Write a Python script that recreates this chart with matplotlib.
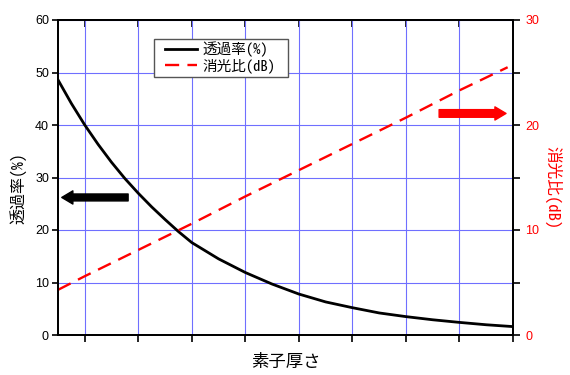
import matplotlib
matplotlib.use('Agg')
from matplotlib import pyplot as plt
from matplotlib.ticker import MultipleLocator
from matplotlib.patches import Rectangle

# font setup: latin digits in Liberation Sans, japanese in Noto CJK
plt.rcParams['font.family'] = ['Liberation Sans', 'Noto Sans CJK JP', 'DejaVu Sans']
jp = ['Noto Sans CJK JP', 'DejaVu Sans']
jp_mono = ['Noto Sans Mono CJK JP', 'Noto Sans CJK JP', 'DejaVu Sans']

# transmittance curve (left axis, %)
thickness = [-0.5, -0.25, 0, 0.25, 0.5, 0.75, 1, 1.25, 1.5, 1.75, 2, 2.5, 3, 3.5, 4,
             4.5, 5, 5.5, 6, 6.5, 7, 7.5, 8]
transmit = [48.6, 44.1, 40.0, 36.3, 32.9, 29.8, 27.0, 24.4, 22.0, 19.7, 17.6, 14.5, 11.9,
            9.7, 7.8, 6.3, 5.2, 4.2, 3.5, 2.9, 2.4, 1.95, 1.6]

# extinction ratio (right axis, dB)
thick_er = [-0.5, 0, 1, 2, 3, 4, 5, 6, 7, 7.9]
ext_ratio = [4.3, 5.6, 8.1, 10.6, 13.2, 15.7, 18.2, 20.7, 23.3, 25.5]

label_t = '透過率(%)'
label_er = '消光比(dB)'
label_x = '素子厚さ'

fig = plt.figure(figsize=(5.7, 3.75), dpi=100)
ax = fig.add_axes([58/570, 1-335/375, 455/570, 315/375])
ax2 = ax.twinx()

ax.set_xlim(-0.5, 8)
ax.set_ylim(0, 60)
ax2.set_ylim(0, 30)

ax.set_xticks(range(0, 9))
ax.set_xticklabels([])
ax.yaxis.set_major_locator(MultipleLocator(10))
ax2.yaxis.set_major_locator(MultipleLocator(10))
ax2.yaxis.set_minor_locator(MultipleLocator(5))

ax.grid(True, color='#6f6fff', lw=0.8)
ax.set_axisbelow(True)

l1, = ax.plot(thickness, transmit, color='black', lw=2.0, label=label_t)
l2, = ax2.plot(thick_er, ext_ratio, color='red', lw=1.7, dashes=(6, 3.5), label=label_er)

for a in (ax, ax2):
    for s in a.spines.values():
        s.set_linewidth(1.3)

ax.tick_params(axis='y', direction='out', length=4.5, width=1.2, labelsize=9, pad=2)
ax.tick_params(axis='x', direction='out', length=5, width=1.2)
ax2.tick_params(axis='y', which='both', direction='out', length=5, width=1.2,
                labelsize=9, labelcolor='red', pad=4)

top = ax.secondary_xaxis('top')
top.set_xticks(range(0, 9))
top.set_xticklabels([])
top.tick_params(direction='in', length=5, width=1.2)
top.spines['top'].set_linewidth(1.3)

# axis titles placed by pixel position
fig.text(18/570, 1-188/375, label_t, fontsize=11.5, family=jp_mono, rotation=90,
         ha='center', va='center')
fig.text(553/570, 1-188/375, label_er, fontsize=12, family=jp_mono, rotation=270,
         ha='center', va='center', color='red')
fig.text(286/570, 1-362/375, label_x, fontsize=12.5, family=jp, ha='center', va='center')

# arrows marking which axis each curve belongs to
ax.annotate('', xy=(-0.43, 26.2), xytext=(0.81, 26.2),
            arrowprops=dict(arrowstyle='simple,head_length=0.8,head_width=0.95,tail_width=0.5',
                            mutation_scale=10, color='black', shrinkA=0, shrinkB=0))
ax2.annotate('', xy=(7.87, 21.1), xytext=(6.62, 21.1),
             arrowprops=dict(arrowstyle='simple,head_length=0.8,head_width=0.95,tail_width=0.55',
                             mutation_scale=10, color='red', shrinkA=0, shrinkB=0))

# legend without its own frame, box drawn separately to match the padding
leg = ax2.legend([l1, l2], [label_t, label_er], loc='upper left',
                 bbox_to_anchor=(165/570, 1-42/375), bbox_transform=fig.transFigure,
                 borderaxespad=0, frameon=False, handlelength=2.2,
                 handletextpad=0.4, borderpad=0, labelspacing=0.05,
                 prop={'family': jp_mono, 'size': 10.5})
box = Rectangle((154/570, 1-77/375), 134/570, 38/375, transform=fig.transFigure,
                facecolor='white', edgecolor='#555555', lw=1.0, zorder=2)
ax2.add_artist(box)
box.set_zorder(4)
leg.set_zorder(5)

plt.savefig('out.png', dpi=100)
